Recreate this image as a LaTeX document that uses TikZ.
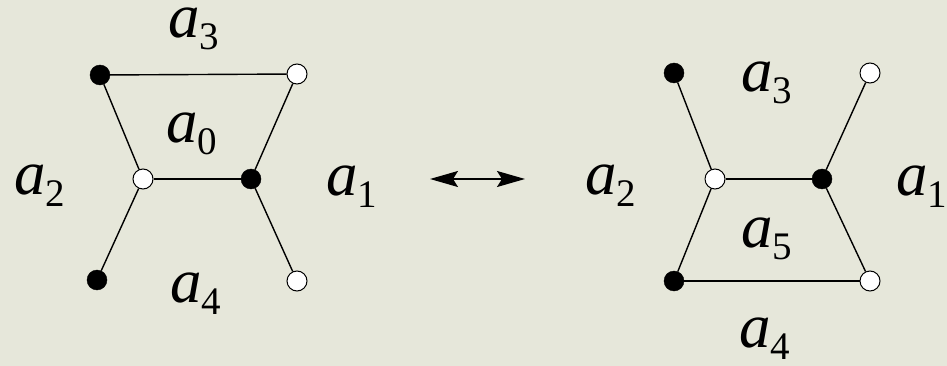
\documentclass[tikz,border=0pt]{standalone}
\usepackage{fontspec}
\setmainfont{Liberation Serif}
\usetikzlibrary{arrows.meta}
\definecolor{paper}{RGB}{230,231,218}
\newcommand{\alab}[1]{\textit{a}\raisebox{-12pt}{\fontsize{39}{39}\selectfont #1}}

\begin{document}
\begin{tikzpicture}[x=1pt, y=-1pt]
  \tikzset{
    blk/.style={circle, draw=black, fill=black, inner sep=0pt, minimum size=20pt},
    wht/.style={circle, draw=black, fill=white, line width=1pt, inner sep=0pt, minimum size=20pt},
    lab/.style={font=\fontsize{63}{63}\selectfont, inner sep=0pt, anchor=base west},
    edge/.style={line width=1.4pt},
    dbl/.style={line width=1.6pt, {Stealth[length=28pt,width=16pt,inset=5pt]}-{Stealth[length=28pt,width=16pt,inset=5pt]}}
  }
  \fill[paper] (0,0) rectangle (947,366);
  \useasboundingbox (0,0) rectangle (947,366);

  % left graph
  \node[blk] (ltl) at (100,75) {};
  \node[wht] (ltr) at (297,74) {};
  \node[wht] (lcl) at (143,179) {};
  \node[blk] (lcr) at (251,179) {};
  \node[blk] (lbl) at (97,280) {};
  \node[wht] (lbr) at (297,281) {};
  \draw[edge] (ltl) -- (ltr);
  \draw[edge] (ltl) -- (lcl);
  \draw[edge] (ltr) -- (lcr);
  \draw[edge] (lcl) -- (lcr);
  \draw[edge] (lcl) -- (lbl);
  \draw[edge] (lcr) -- (lbr);
  \node[lab] (la3) at (168,38) {\alab{3}};
  \node[lab] (la0) at (166,143) {\alab{0}};
  \node[lab] (la2) at (14,195) {\alab{2}};
  \node[lab] (la1) at (326,196) {\alab{1}};
  \node[lab] (la4) at (170,302) {\alab{4}};

  % arrow
  \coordinate (arl) at (430,179);
  \coordinate (arr) at (525,179);
  \draw[dbl] (arl) -- (arr);

  % right graph
  \node[blk] (rtl) at (674,73) {};
  \node[wht] (rtr) at (870,73) {};
  \node[wht] (rcl) at (715,179) {};
  \node[blk] (rcr) at (822,179) {};
  \node[blk] (rbl) at (674,281) {};
  \node[wht] (rbr) at (870,281) {};
  \draw[edge] (rtl) -- (rcl);
  \draw[edge] (rtr) -- (rcr);
  \draw[edge] (rcl) -- (rcr);
  \draw[edge] (rcl) -- (rbl);
  \draw[edge] (rcr) -- (rbr);
  \draw[edge] (rbl) -- (rbr);
  \node[lab] (ra3) at (741,92) {\alab{3}};
  \node[lab] (ra2) at (585,195) {\alab{2}};
  \node[lab] (ra1) at (896,196) {\alab{1}};
  \node[lab] (ra5) at (741,247) {\alab{5}};
  \node[lab] (ra4) at (739,347) {\alab{4}};
\end{tikzpicture}
\end{document}
